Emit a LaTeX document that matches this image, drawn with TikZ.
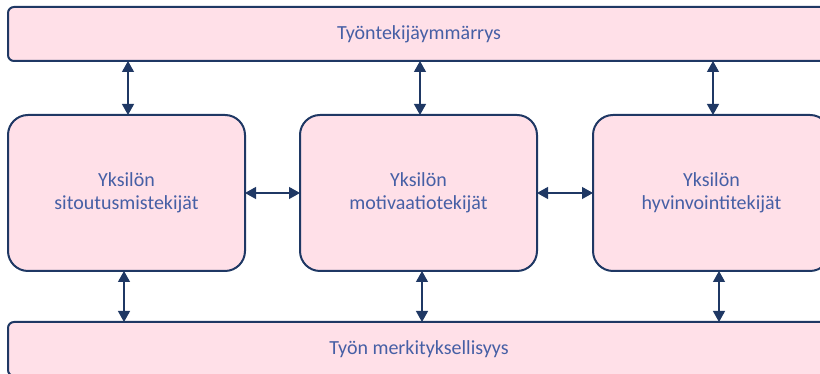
\documentclass[tikz,border=0pt]{standalone}
\usepackage{fontspec}
\setmainfont{Carlito}
\usepackage{xcolor}
\usepackage{tikz}
\usetikzlibrary{positioning}
\usetikzlibrary{arrows.meta}
\tikzset{>={Triangle[width=12pt,length=11pt]}}
\definecolor{boxpink}{RGB}{255,224,232}
\definecolor{boxline}{RGB}{31,56,100}
\definecolor{boxtext}{RGB}{70,95,165}

\begin{document}
\begin{tikzpicture}[x=1pt, y=1pt, factor/.style={rectangle, rounded corners=20pt, draw=boxline, fill=boxpink, line width=2pt, minimum width=237pt, minimum height=156pt, outer sep=0pt, align=center, text=boxtext, font=\fontsize{20}{23}\selectfont}, bar/.style={rectangle, rounded corners=6pt, draw=boxline, fill=boxpink, line width=2pt, minimum width=822pt, minimum height=54pt, outer sep=0pt, text=boxtext, font=\fontsize{20}{23}\selectfont}, link/.style={<->, draw=boxline, line width=1.2pt}]

    \useasboundingbox (0,0) rectangle (820,374);

    %Nodes
    \node[factor](motivation) at (418.5,181){Yksilön\\motivaatiotekijät};
    \node[factor](commitment)[left=55pt of motivation]{Yksilön\\sitoutusmistekijät};
    \node[factor](wellbeing)[right=56pt of motivation]{Yksilön\\hyvinvointitekijät};
    \node[bar](understanding)[above=54pt of motivation, xshift=0.5pt]{Työntekijäymmärrys};
    \node[bar](meaning)[below=51pt of motivation, xshift=0.5pt]{Työn merkityksellisyys};

    %Lines
    \draw[link] ([xshift=1.5pt]commitment.north) -- ([xshift=1.5pt]commitment.north |- understanding.south);
    \draw[link] ([xshift=1.5pt]motivation.north) -- ([xshift=1.5pt]motivation.north |- understanding.south);
    \draw[link] ([xshift=1.5pt]wellbeing.north) -- ([xshift=1.5pt]wellbeing.north |- understanding.south);
    \draw[link] (commitment.east) -- (motivation.west);
    \draw[link] (motivation.east) -- (wellbeing.west);
    \draw[link] ([xshift=-2.5pt]commitment.south) -- ([xshift=-2.5pt]commitment.south |- meaning.north);
    \draw[link] ([xshift=3.5pt]motivation.south) -- ([xshift=3.5pt]motivation.south |- meaning.north);
    \draw[link] ([xshift=7.5pt]wellbeing.south) -- ([xshift=7.5pt]wellbeing.south |- meaning.north);

\end{tikzpicture}
\end{document}
